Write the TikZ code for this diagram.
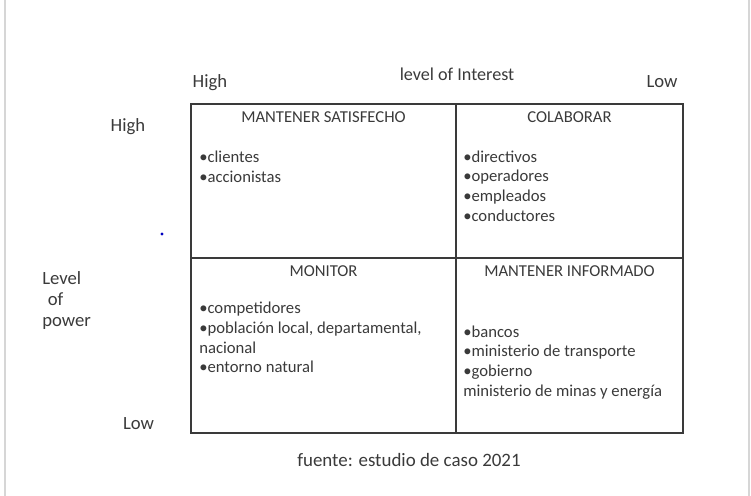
\documentclass[tikz,border=0pt]{standalone}
\usepackage{fontspec}
\setmainfont{Carlito}
\usetikzlibrary{positioning}
\definecolor{inkgray}{RGB}{58,58,58}
\definecolor{edgegray}{RGB}{214,214,214}

\begin{document}
\begin{tikzpicture}[
            x = 0.75pt, y = -0.75pt, % one unit = one pixel of the reference
            every node/.style = {text = inkgray, font = \fontsize{12.5}{14.7}\selectfont},
            quad/.style = {draw = inkgray, line width = 0.9pt, inner sep = 0pt, outer sep = 0pt},
            quadtitle/.style = {inner sep = 0pt, anchor = north},
            itemlist/.style = {inner sep = 0pt, anchor = north west, align = left},
            axislabel/.style = {anchor = base, font = \fontsize{14}{16}\selectfont}
        ]

        % page frame
        \useasboundingbox (0,0) rectangle (751,496);
        \draw[edgegray, line width = 0.8pt] (5,0) -- (5,496);
        \draw[edgegray, line width = 0.8pt] (749,0) -- (749,496);

        % the four quadrants
        \node[quad, anchor = north west, minimum width = 198.75pt, minimum height = 115.5pt] (satisfied) at (191,104) {};
        \node[quad, minimum width = 170.25pt, minimum height = 115.5pt, right = 0pt of satisfied] (collab) {};
        \node[quad, minimum width = 198.75pt, minimum height = 131.25pt, below = 0pt of satisfied] (monitor) {};
        \node[quad, minimum width = 170.25pt, minimum height = 131.25pt, below = 0pt of collab] (informed) {};

        \node[quadtitle, below = 5.25pt of satisfied.north] (satisfiedtitle) {MANTENER SATISFECHO};
        \node[quadtitle, below = 5.25pt of collab.north] (collabtitle) {COLABORAR};
        \node[quadtitle, below = 5.25pt of monitor.north] (monitortitle) {MONITOR};
        \node[quadtitle, below = 5.25pt of informed.north] (informedtitle) {MANTENER INFORMADO};

        \node[itemlist] (satisfieditems) at (199,151) {•clientes\\•accionistas};
        \node[itemlist] (collabitems) at (463,150.5) {•directivos\\•operadores\\•empleados\\•conductores};
        \node[itemlist] (monitoritems) at (199,302) {•competidores\\•población local, departamental,\\nacional\\•entorno natural};
        \node[itemlist] (informeditems) at (463,325.5) {•bancos\\•ministerio de transporte\\•gobierno\\ministerio de minas y energía};

        % axis labels
        \node[axislabel] (interesthigh) at (210,87.5) {High};
        \node[axislabel, font = \fontsize{13.6}{16}\selectfont] (interest) at (457,80.7) {level of Interest};
        \node[axislabel] (interestlow) at (662,87.5) {Low};
        \node[axislabel] (powerhigh) at (128,131.5) {High};
        \node[axislabel] (powerlow) at (138.5,429) {Low};
        \node[itemlist, font = \fontsize{14}{15.75}\selectfont] (power) at (42,271.5) {Level\\\hspace{0.3em}of\\power};

        \fill[blue!75!black] (162,234) circle (1.2pt);

        \node[axislabel, font = \fontsize{14.2}{16}\selectfont] (source) at (409,466) {fuente: estudio de caso 2021};

    \end{tikzpicture}
\end{document}
